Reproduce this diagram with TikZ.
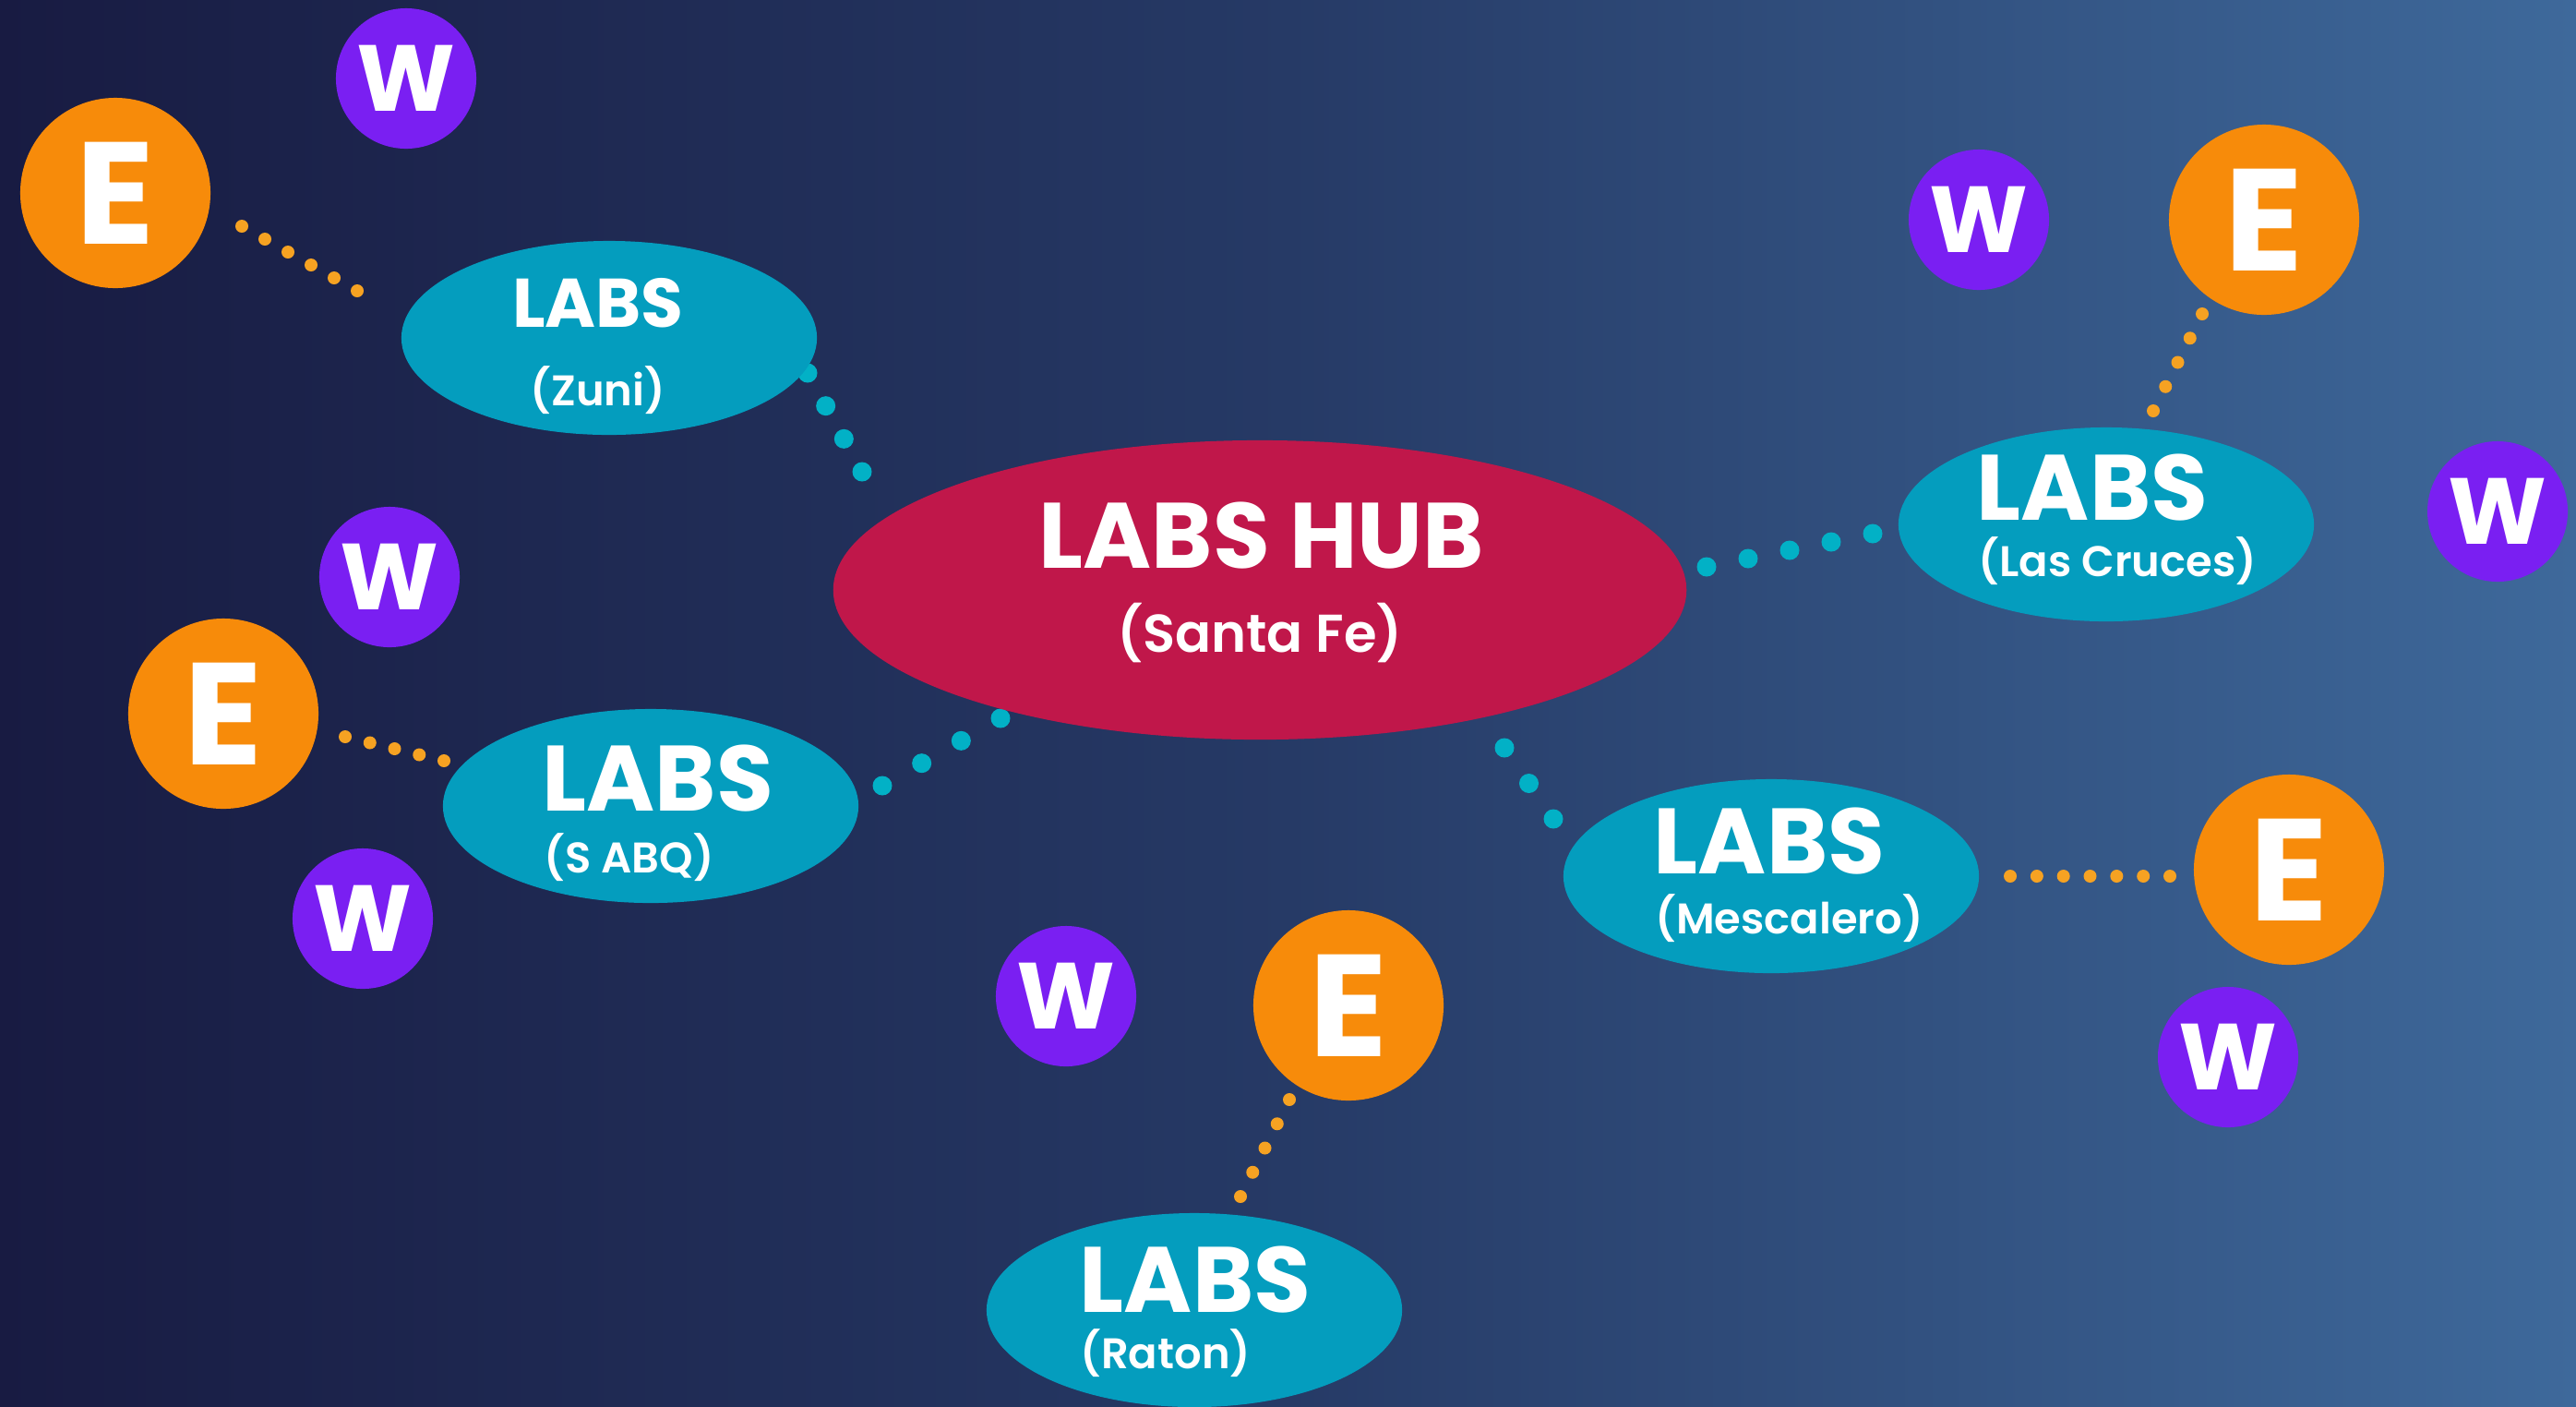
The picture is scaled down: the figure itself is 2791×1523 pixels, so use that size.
\documentclass[tikz,border=0pt]{standalone}
\usepackage{fontspec}
\setmainfont{Poppins}
\newfontfamily\subfont{Poppins}[UprightFont=* SemiBold]
\usetikzlibrary{shapes.geometric,calc}

\definecolor{bgleft}{RGB}{24,27,66}
\definecolor{bgmid}{RGB}{38,58,102}
\definecolor{bgright}{RGB}{62,105,155}
\definecolor{labcyan}{RGB}{4,157,190}
\definecolor{hubred}{RGB}{192,23,74}
\definecolor{eorange}{RGB}{247,139,10}
\definecolor{wpurple}{RGB}{122,31,242}
\definecolor{odot}{RGB}{246,162,34}
\definecolor{cdot}{RGB}{2,177,198}

\begin{document}
\begin{tikzpicture}[x=0.01cm,y=-0.01cm,
  labsbox/.style={ellipse, fill=labcyan, minimum width=4.5cm, minimum height=2.1cm, inner sep=0pt},
  hubbox/.style={ellipse, fill=hubred, minimum width=9.24cm, minimum height=3.24cm, inner sep=0pt},
  ebadge/.style={circle, fill=eorange, minimum size=2.06cm, inner sep=0pt, text=white,
    font=\bfseries\fontsize{44.7}{44.7}\selectfont},
  wbadge/.style={circle, fill=wpurple, minimum size=1.52cm, inner sep=0pt, text=white,
    font=\bfseries\fontsize{28.9}{28.9}\selectfont},
  bigtitle/.style={inner sep=0pt, text=white, font=\bfseries\fontsize{28.6}{28.6}\selectfont},
  smalltitle/.style={inner sep=0pt, text=white, font=\bfseries\fontsize{21.2}{21.2}\selectfont},
  subtitle/.style={inner sep=0pt, text=white, font=\subfont\fontsize{13.2}{13.2}\selectfont},
  hubsub/.style={inner sep=0pt, text=white, font=\subfont\fontsize{16.4}{16.4}\selectfont},
  orangedot/.style={fill=odot},
  cyandot/.style={fill=cdot}
]
% backdrop
\useasboundingbox (0,0) rectangle (2791,1523);
\shade[left color=bgleft, right color=bgmid] (0,0) rectangle (1396,1523);
\shade[left color=bgmid, right color=bgright] (1395,0) rectangle (2791,1523);

% dotted links: lab to E badge (orange)
\coordinate (oz1) at (262,245);   \coordinate (oz2) at (387,315);
\coordinate (os1) at (374,798);   \coordinate (os2) at (481,824);
\coordinate (oc1) at (2386,340);  \coordinate (oc2) at (2333,445);
\coordinate (om1) at (2178,949);  \coordinate (om2) at (2351,949);
\coordinate (or1) at (1397,1191); \coordinate (or2) at (1344,1296);
\foreach \a/\b/\n in {oz1/oz2/5, os1/os2/4, oc1/oc2/4, om1/om2/6, or1/or2/4}
  \foreach \i in {0,...,\n}
    \fill[orangedot] ($(\a)!\i/\n!(\b)$) circle[radius=0.07cm];

% dotted links: hub to labs (cyan)
\coordinate (cz1) at (875,404);   \coordinate (cz2) at (934,511);
\coordinate (cs1) at (956,851);   \coordinate (cs2) at (1084,778);
\coordinate (cc1) at (1849,614);  \coordinate (cc2) at (2029,578);
\coordinate (cm1) at (1630,810);  \coordinate (cm2) at (1683,887);
\foreach \a/\b/\n in {cz1/cz2/3, cs1/cs2/3, cc1/cc2/4, cm1/cm2/2}
  \foreach \i in {0,...,\n}
    \fill[cyandot] ($(\a)!\i/\n!(\b)$) circle[radius=0.105cm];

% hub
\node[hubbox] (hub) at (1365,639) {};
\node[bigtitle, anchor=base] at (1367,615) {LABS HUB};
\node[hubsub, anchor=base] at (1365,706) {(Santa Fe)};

% labs
\node[labsbox] (zuni) at (660,366) {};
\node[smalltitle, anchor=base] at (648,354) {LABS};
\node[subtitle, anchor=base] at (648,439) {(Zuni)};

\node[labsbox] (cruces) at (2282,568) {};
\node[bigtitle, anchor=base] at (2267,563) {LABS};
\node[subtitle, anchor=base west] at (2143,624) {(Las Cruces)};

\node[labsbox] (sabq) at (705,873) {};
\node[bigtitle, anchor=base] at (713,878) {LABS};
\node[subtitle, anchor=base west] at (589,945) {(S ABQ)};

\node[labsbox] (mesc) at (1919,949) {};
\node[bigtitle, anchor=base] at (1917,946) {LABS};
\node[subtitle, anchor=base west] at (1793,1011) {(Mescalero)};

\node[labsbox] (raton) at (1294,1419) {};
\node[bigtitle, anchor=base] at (1295,1421) {LABS};
\node[subtitle, anchor=base west] at (1170,1482) {(Raton)};

% E and W badges
\node[ebadge] (e1) at (125,209) {E};
\node[wbadge] (w1) at (440,85) {W};
\node[ebadge] (e2) at (242,773) {E};
\node[wbadge] (w2) at (422,625) {W};
\node[wbadge] (w3) at (393,995) {W};
\node[ebadge] (e3) at (2453,238) {E};
\node[wbadge] (w4) at (2144,238) {W};
\node[wbadge] (w5) at (2706,554) {W};
\node[ebadge] (e4) at (2480,942) {E};
\node[wbadge] (w6) at (2414,1145) {W};
\node[ebadge] (e5) at (1461,1089) {E};
\node[wbadge] (w7) at (1155,1079) {W};
\end{tikzpicture}
\end{document}
